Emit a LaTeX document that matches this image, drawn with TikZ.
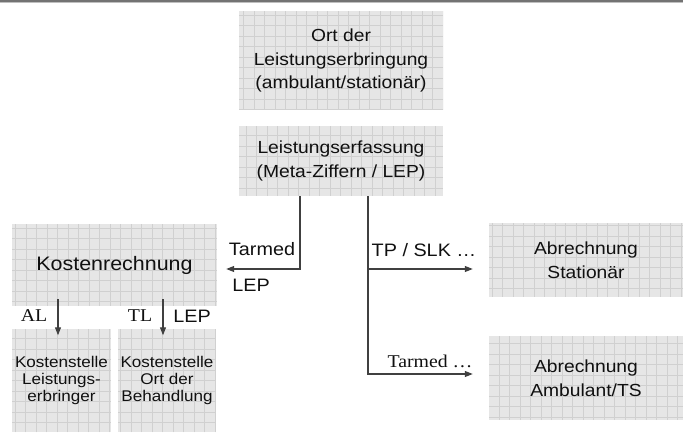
\documentclass[tikz,border=0pt]{standalone}
\usepackage{fontspec}
\setmainfont{Liberation Sans}[FakeStretch=1.1]
\newfontfamily\serifface{Liberation Serif}[FakeStretch=1.1]
\usetikzlibrary{arrows.meta,calc}
\definecolor{boxfill}{HTML}{E6E6E6}
\definecolor{gridcol}{HTML}{D0D0D0}
\definecolor{linecol}{HTML}{404040}
\definecolor{txt}{HTML}{101010}
\tikzset{
  box/.style={fill=boxfill, inner sep=0pt, align=center, text=txt,
    font=\fontsize{17.5}{23.5}\selectfont,
    path picture={\draw[gridcol, line width=0.45pt] (path picture bounding box.south west) grid[step=10.5pt] (path picture bounding box.north east);}},
  smallbox/.style={box, font=\fontsize{15.5}{17}\selectfont},
  arr/.style={draw=linecol, line width=1.1pt, -{Triangle[length=8pt,width=6pt]}},
  lab/.style={inner sep=0pt, text=txt, font=\fontsize{18}{20}\selectfont},
  serlab/.style={inner sep=0pt, text=txt, font=\serifface\fontsize{18}{20}\selectfont},
}
\begin{document}
\begin{tikzpicture}[x=1pt,y=-1pt]
\useasboundingbox (0,0) rectangle (683,435);
\draw[color=gray!110, line width=2pt] (0,1) -- (683,1);
\draw[color=gray!50, line width=1pt] (0,2.5) -- (683,2.5);

\node[box, minimum width=204pt, minimum height=99pt] (b1) at (341,60.5) {Ort der\\Leistungserbringung\\(ambulant/station\"ar)};
\node[box, minimum width=204pt, minimum height=70pt] (b2) at (341,161) {Leistungserfassung\\(Meta-Ziffern / LEP)};
\node[box, minimum width=205pt, minimum height=82pt, font=\fontsize{19.5}{22}\selectfont] (kosten) at (114.5,265) {Kostenrechnung};
\node[smallbox, minimum width=99pt, minimum height=103pt, text depth=4pt] (ka) at (61.5,381) {Kostenstelle\\Leistungs-\\erbringer};
\node[smallbox, minimum width=98pt, minimum height=103pt, text depth=4pt] (kb) at (167,381) {Kostenstelle\\Ort der\\Behandlung};
\node[box, minimum width=194pt, minimum height=74pt] (as) at (586,260) {Abrechnung\\Station\"ar};
\node[box, minimum width=194pt, minimum height=84pt] (aa) at (586,378) {Abrechnung\\Ambulant/TS};

\coordinate (lt) at ([xshift=-41pt]b2.south);
\coordinate (rt) at ([xshift=27pt]b2.south);
\coordinate (kin) at ([xshift=9pt,yshift=-4pt]kosten.east);
\coordinate (sin) at ([xshift=-16pt,yshift=-9pt]as.west);
\coordinate (ain) at ([xshift=-16pt,yshift=4pt]aa.west);
\draw[arr] (lt) |- (kin);
\draw[arr] (rt) |- (ain);
\draw[arr] (rt |- sin) -- (sin);
\draw[arr] ([xshift=-56.5pt,yshift=7pt]kosten.south) -- ([xshift=-3.5pt,yshift=-6pt]ka.north);
\draw[arr] ([xshift=48.5pt,yshift=7pt]kosten.south) -- ([xshift=-4pt,yshift=-6pt]kb.north);

\node[lab] (lTarmed) at (262,249) {Tarmed};
\node[lab] (lLEP) at (251,285) {LEP};
\node[lab] (lTP) at (424,250) {TP / SLK \ldots};
\node[serlab] (lTarmed2) at (430,361) {Tarmed \ldots};
\node[serlab] (lAL) at (34,316) {AL};
\node[serlab] (lTL) at (140,316) {TL};
\node[lab] (lLEP2) at (192,316) {LEP};
\end{tikzpicture}
\end{document}
